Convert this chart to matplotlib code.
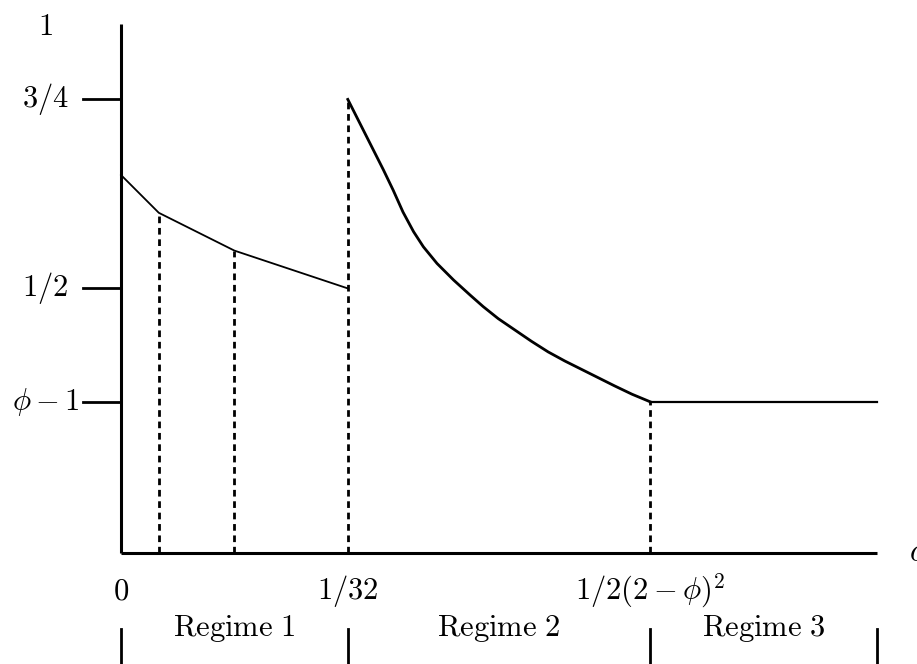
import matplotlib
matplotlib.use("Agg")
import matplotlib.pyplot as plt

plt.rcParams['mathtext.fontset'] = 'cm'

# diagram coordinates (schematic, not to scale)
regime1_x = [0, 0.5, 1.5, 3]
regime1_y = [5, 4.5, 4, 3.5]

regime2_x = [3.0, 3.47, 3.60, 3.73, 3.87, 4.00, 4.18, 4.40, 4.62, 4.79, 4.99,
             5.21, 5.43, 5.65, 5.87, 6.09, 6.31, 6.53, 6.76, 7.0]
regime2_y = [6.0, 5.07, 4.80, 4.51, 4.25, 4.05, 3.83, 3.61, 3.41, 3.26, 3.10,
             2.95, 2.80, 2.66, 2.54, 2.43, 2.32, 2.21, 2.10, 2.0]

regime3_x = [7, 10]
regime3_y = [2, 2]

dash_x = [0.5, 1.5, 3, 7]
dash_top = [4.5, 4, 6, 2]

ytick_pos = [6, 3.5, 2]
ytick_labels = [r'$3/4$', r'$1/2$', r'$\phi-1$']

xtick_pos = [0, 3, 7]
xtick_labels = [r'$0$', r'$1/32$', r'$1/2(2-\phi)^2$']

regime_bounds = [0, 3, 7, 10]
regime_names = [r'$\mathrm{Regime\ 1}$', r'$\mathrm{Regime\ 2}$', r'$\mathrm{Regime\ 3}$']

fig = plt.figure(figsize=(9.17, 6.64), dpi=100)
ax = fig.add_axes([0, 0, 1, 1])
ax.set_xlim(-121 / 75.6, 796 / 75.6)
ax.set_ylim(-111 / 75.6, 553 / 75.6)
ax.axis('off')

fs = 22

# axes
ax.plot([0, 0], [0, 7], color='black', lw=2.2, solid_capstyle='butt')
ax.plot([0, 10], [0, 0], color='black', lw=2.2, solid_capstyle='butt')
ax.text(10.42, 0, r'$\alpha$', fontsize=fs, ha='left', va='center')
ax.text(-1.0, 6.97, r'$1$', fontsize=fs, ha='center', va='center')

for y, lab in zip(ytick_pos, ytick_labels):
    ax.plot([-0.5, 0], [y, y], color='black', lw=2.0)
    ax.text(-1.0, y, lab, fontsize=fs, ha='center', va='center')

for x, lab in zip(xtick_pos, xtick_labels):
    ax.text(x, -0.5, lab, fontsize=fs, ha='center', va='center')

# dashed guides
for x, top in zip(dash_x, dash_top):
    ax.plot([x, x], [0, top], color='black', lw=2.0, linestyle=(0, (2.4, 1.7)))

# curve
ax.plot(regime1_x, regime1_y, color='black', lw=1.3)
ax.plot(regime2_x, regime2_y, color='black', lw=2.0, solid_joinstyle='round')
ax.plot(regime3_x, regime3_y, color='black', lw=1.6)

# regimes
for x in regime_bounds:
    ax.plot([x, x], [-1.0, -1.6], color='black', lw=2.0)
for i, name in enumerate(regime_names):
    mid = (regime_bounds[i] + regime_bounds[i + 1]) / 2
    ax.text(mid, -1.0, name, fontsize=fs, ha='center', va='center')

fig.savefig('out.png', dpi=100)
